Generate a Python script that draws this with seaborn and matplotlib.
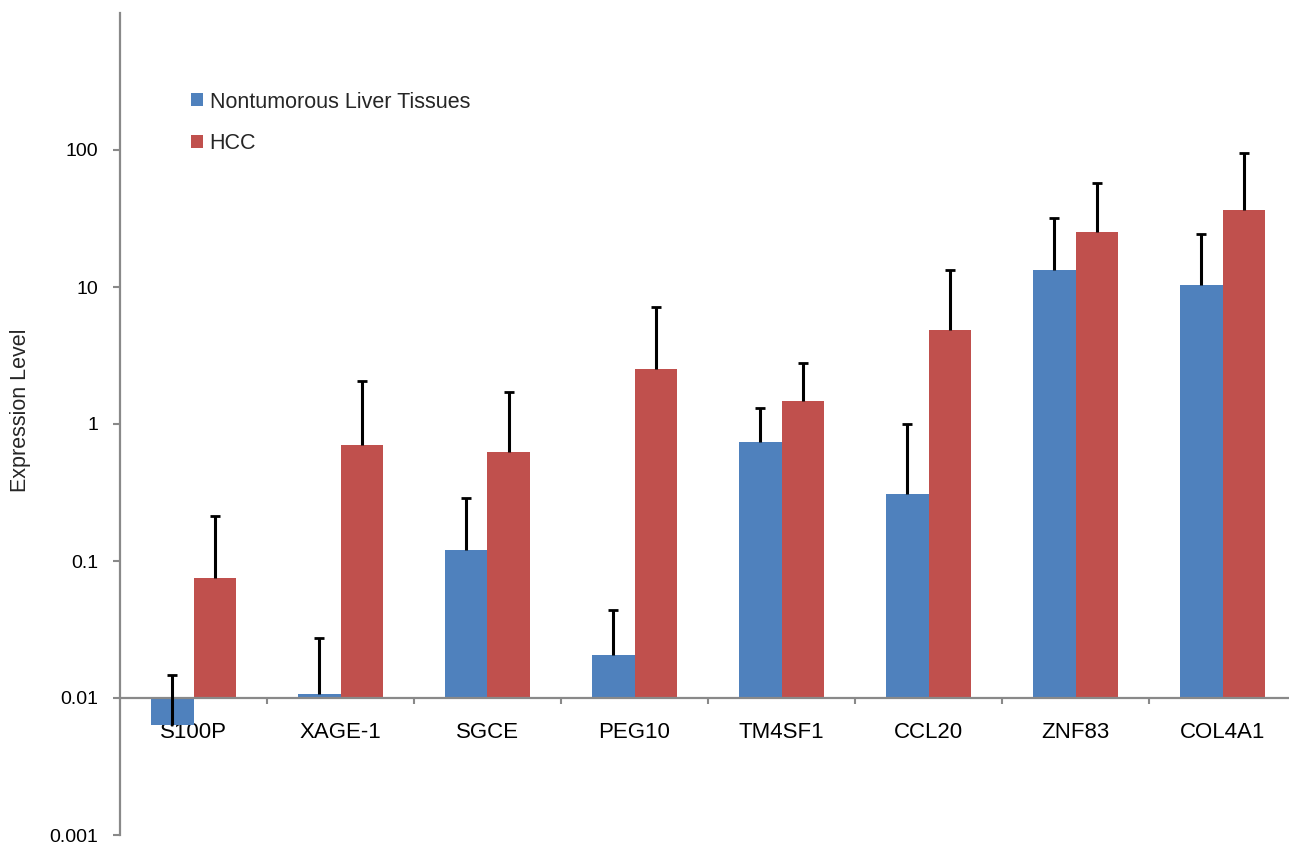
import matplotlib
matplotlib.use("Agg")
import matplotlib.pyplot as plt
import matplotlib.patches as mpatches
from matplotlib.container import BarContainer
import seaborn as sns
import pandas as pd
import numpy as np

categories = ["S100P", "XAGE-1", "SGCE", "PEG10", "TM4SF1", "CCL20", "ZNF83", "COL4A1"]
series_names = ["Nontumorous Liver Tissues", "HCC"]
nontumor_values = [0.0064, 0.0107, 0.12, 0.0206, 0.733, 0.306, 13.4, 10.4]
nontumor_err_top = [0.0147, 0.0274, 0.286, 0.0438, 1.30, 1.00, 32.0, 24.4]
hcc_values = [0.0748, 0.697, 0.62, 2.54, 1.46, 4.89, 25.3, 36.6]
hcc_err_top = [0.212, 2.07, 1.70, 7.18, 2.80, 13.4, 57.6, 95.0]
ytick_values = [0.001, 0.01, 0.1, 1, 10, 100]
ytick_labels = ["0.001", "0.01", "0.1", "1", "10", "100"]
baseline = 0.01

colors = ["#4F81BD", "#C0504D"]

df = pd.DataFrame({
    "gene": categories * 2,
    "group": [series_names[0]] * len(categories) + [series_names[1]] * len(categories),
    "value": nontumor_values + hcc_values,
})

sns.set_style("white")
plt.rcParams["font.family"] = ["Liberation Sans", "DejaVu Sans"]

fig = plt.figure(figsize=(12.89, 8.44), dpi=100)
ax = fig.add_axes([120 / 1289, 9 / 844, 1 - 120 / 1289, (835 - 13) / 844])

sns.barplot(data=df, x="gene", y="value", hue="group", order=categories,
            hue_order=series_names, palette=colors, width=0.578,
            errorbar=None, saturation=1, legend=False, ax=ax)

err_tops = [nontumor_err_top, hcc_err_top]
bar_containers = [c for c in ax.containers if isinstance(c, BarContainer)]
for ci, cont in enumerate(bar_containers):
    for pi, patch in enumerate(cont.patches):
        v = patch.get_height()
        patch.set_y(baseline)
        patch.set_height(v - baseline)
        patch.set_edgecolor("none")
        xc = patch.get_x() + patch.get_width() / 2
        top = err_tops[ci][pi]
        eb = ax.errorbar([xc], [v], yerr=[[0], [top - v]], fmt="none",
                         ecolor="black", elinewidth=2.2, capsize=3.4, capthick=2.0,
                         zorder=5)
        for cap in eb[1]:
            if np.isclose(cap.get_ydata()[0], v):
                cap.set_visible(False)

ax.set_yscale("log")
ax.set_ylim(0.001, 1000)
ax.set_xlim(-0.5, -0.5 + 1169 / 147)
ax.set_yticks(ytick_values)
ax.set_yticklabels(ytick_labels)
ax.yaxis.set_minor_locator(matplotlib.ticker.NullLocator())

spine_col = "#898989"
for s in ["top", "right"]:
    ax.spines[s].set_visible(False)
ax.spines["left"].set_color(spine_col)
ax.spines["left"].set_linewidth(1.6)
ax.spines["bottom"].set_color(spine_col)
ax.spines["bottom"].set_linewidth(1.6)
ax.spines["bottom"].set_position(("data", baseline))

ax.tick_params(axis="y", which="major", direction="out", length=5.0, width=1.5,
               color=spine_col, pad=10.5, labelsize=14, labelcolor="black", left=True)
ax.set_xticks(range(len(categories)))
ax.set_xticks(np.arange(0.5, len(categories) - 1, 1.0), minor=True)
ax.tick_params(axis="x", which="major", length=0, pad=17.5, labelsize=16, labelcolor="black")
ax.tick_params(axis="x", which="minor", direction="out", length=4, width=1.5,
               color=spine_col, bottom=True)

ax.set_xlabel("")
ax.set_ylabel("Expression Level", fontsize=15.5)
ax.yaxis.set_label_coords((31 - 120) / 1169, (835 - 410) / 822)

handles = [mpatches.Patch(facecolor=c, edgecolor="none") for c in colors]
ax.legend(handles, series_names, loc="upper left",
          bbox_to_anchor=(191 / 1289, (844 - 91.5) / 844), bbox_transform=fig.transFigure,
          frameon=False, fontsize=15.5, handlelength=0.56, handleheight=0.56,
          handletextpad=0.3, labelspacing=0.94, borderpad=0, borderaxespad=0)

fig.savefig("out.png", dpi=100)
